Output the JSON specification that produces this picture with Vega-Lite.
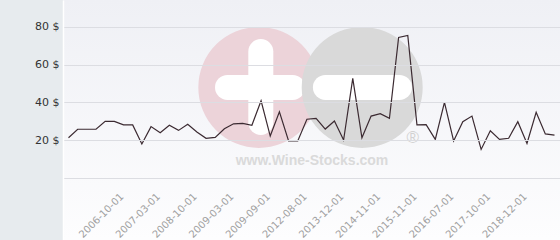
{
  "$schema": "https://vega.github.io/schema/vega-lite/v6.json",
  "width": 497,
  "height": 240,
  "autosize": {"type": "none"},
  "padding": {"left": 63, "top": 0, "right": 0, "bottom": 0},
  "background": "#e7ebee",
  "config": {
    "view": {
      "stroke": null,
      "fill": {"gradient": "linear", "x1": 0, "y1": 0, "x2": 0, "y2": 1, "stops": [{"offset": 0, "color": "#eff0f5"}, {"offset": 1, "color": "#fdfdfe"}]}
    },
    "font": "DejaVu Sans"
  },
  "data": {
    "values": [
      {"date": "2005-06-01", "price": 21.2},
      {"date": "2005-09-01", "price": 25.7},
      {"date": "2005-12-01", "price": 25.7},
      {"date": "2006-02-01", "price": 25.7},
      {"date": "2006-05-01", "price": 29.9},
      {"date": "2006-08-01", "price": 29.9},
      {"date": "2006-10-01", "price": 28.0},
      {"date": "2006-11-01", "price": 28.0},
      {"date": "2006-12-01", "price": 17.9},
      {"date": "2007-02-01", "price": 27.1},
      {"date": "2007-03-01", "price": 23.9},
      {"date": "2007-06-01", "price": 27.8},
      {"date": "2007-10-01", "price": 25.1},
      {"date": "2008-03-01", "price": 28.3},
      {"date": "2008-10-01", "price": 24.2},
      {"date": "2008-11-01", "price": 20.9},
      {"date": "2008-12-01", "price": 21.4},
      {"date": "2009-01-01", "price": 26.0},
      {"date": "2009-03-01", "price": 28.6},
      {"date": "2009-05-01", "price": 28.8},
      {"date": "2009-06-01", "price": 27.8},
      {"date": "2009-07-01", "price": 40.8},
      {"date": "2009-09-01", "price": 22.1},
      {"date": "2010-06-01", "price": 35.0},
      {"date": "2011-03-01", "price": 19.5},
      {"date": "2011-12-01", "price": 19.5},
      {"date": "2012-08-01", "price": 31.0},
      {"date": "2012-12-01", "price": 31.5},
      {"date": "2013-04-01", "price": 25.8},
      {"date": "2013-08-01", "price": 30.1},
      {"date": "2013-12-01", "price": 20.0},
      {"date": "2014-03-01", "price": 52.7},
      {"date": "2014-06-01", "price": 21.2},
      {"date": "2014-09-01", "price": 32.7},
      {"date": "2014-11-01", "price": 34.0},
      {"date": "2015-02-01", "price": 31.5},
      {"date": "2015-05-01", "price": 74.4},
      {"date": "2015-08-01", "price": 75.5},
      {"date": "2015-11-01", "price": 28.0},
      {"date": "2016-01-01", "price": 28.1},
      {"date": "2016-03-01", "price": 20.3},
      {"date": "2016-05-01", "price": 40.0},
      {"date": "2016-07-01", "price": 19.5},
      {"date": "2016-11-01", "price": 29.7},
      {"date": "2017-03-01", "price": 32.7},
      {"date": "2017-07-01", "price": 15.0},
      {"date": "2017-10-01", "price": 24.9},
      {"date": "2018-01-01", "price": 20.3},
      {"date": "2018-05-01", "price": 20.9},
      {"date": "2018-08-01", "price": 29.7},
      {"date": "2018-12-01", "price": 18.2},
      {"date": "2019-03-01", "price": 34.7},
      {"date": "2019-06-01", "price": 23.2},
      {"date": "2019-09-01", "price": 22.6}
    ]
  },
  "resolve": {"scale": {"x": "independent"}},
  "layer": [
    {
      "data": {"values": [{}]},
      "mark": {"type": "point", "filled": true, "shape": "circle", "size": 14641, "color": "#ecd3d9", "opacity": 1},
      "encoding": {
        "x": {"datum": 0.394, "type": "quantitative", "scale": {"domain": [0, 1]}, "axis": null},
        "y": {"datum": 47.9, "type": "quantitative", "scale": {"domain": [-33.05, 94.27], "nice": false, "zero": false}}
      }
    },
    {
      "data": {"values": [{}]},
      "mark": {"type": "rule", "color": "#ffffff", "strokeWidth": 25, "strokeCap": "round"},
      "encoding": {
        "x": {"datum": 0.331, "type": "quantitative", "scale": {"domain": [0, 1]}, "axis": null},
        "x2": {"datum": 0.462},
        "y": {"datum": 47.9, "type": "quantitative", "scale": {"domain": [-33.05, 94.27], "nice": false, "zero": false}}
      }
    },
    {
      "data": {"values": [{}]},
      "mark": {"type": "rule", "color": "#ffffff", "strokeWidth": 25, "strokeCap": "round"},
      "encoding": {
        "x": {"datum": 0.398, "type": "quantitative", "scale": {"domain": [0, 1]}, "axis": null},
        "y": {"datum": 66.9, "type": "quantitative", "scale": {"domain": [-33.05, 94.27], "nice": false, "zero": false}},
        "y2": {"datum": 29.3}
      }
    },
    {
      "data": {"values": [{}]},
      "mark": {"type": "point", "filled": true, "shape": "circle", "size": 14641, "color": "#d9d9d9", "opacity": 1},
      "encoding": {
        "x": {"datum": 0.602, "type": "quantitative", "scale": {"domain": [0, 1]}, "axis": null},
        "y": {"datum": 47.9, "type": "quantitative", "scale": {"domain": [-33.05, 94.27], "nice": false, "zero": false}}
      }
    },
    {
      "data": {"values": [{}]},
      "mark": {"type": "rule", "color": "#ffffff", "strokeWidth": 25, "strokeCap": "round"},
      "encoding": {
        "x": {"datum": 0.528, "type": "quantitative", "scale": {"domain": [0, 1]}, "axis": null},
        "x2": {"datum": 0.677},
        "y": {"datum": 47.9, "type": "quantitative", "scale": {"domain": [-33.05, 94.27], "nice": false, "zero": false}}
      }
    },
    {
      "data": {"values": [{"t": "www.Wine-Stocks.com"}]},
      "mark": {"type": "text", "font": "Liberation Sans", "fontWeight": "bold", "fontSize": 14, "color": "#dadada", "baseline": "middle", "align": "center"},
      "encoding": {
        "x": {"datum": 0.501, "type": "quantitative", "scale": {"domain": [0, 1]}, "axis": null},
        "y": {"datum": 8.9, "type": "quantitative", "scale": {"domain": [-33.05, 94.27], "nice": false, "zero": false}},
        "text": {"field": "t"}
      }
    },
    {
      "data": {"values": [{"t": "®"}]},
      "mark": {"type": "text", "font": "Liberation Sans", "fontSize": 17, "color": "#d2d2d2", "baseline": "middle", "align": "center"},
      "encoding": {
        "x": {"datum": 0.704, "type": "quantitative", "scale": {"domain": [0, 1]}, "axis": null},
        "y": {"datum": 21, "type": "quantitative", "scale": {"domain": [-33.05, 94.27], "nice": false, "zero": false}},
        "text": {"field": "t"}
      }
    },
    {
      "mark": {"type": "line", "color": "#3b2a31", "strokeWidth": 1.2},
      "encoding": {
        "x": {
          "field": "date", "type": "ordinal", "sort": null,
          "scale": {"type": "point", "padding": 0.6},
          "axis": {
            "values": ["2006-10-01", "2007-03-01", "2008-10-01", "2009-03-01", "2009-09-01", "2012-08-01", "2013-12-01", "2014-11-01", "2015-11-01", "2016-07-01", "2017-10-01", "2018-12-01"],
            "offset": -62.3,
            "title": null,
            "domain": false,
            "ticks": false,
            "grid": false,
            "labelAngle": -45,
            "labelAlign": "right",
            "labelBaseline": "middle",
            "labelPadding": 17,
            "labelOffset": -2,
            "labelFontSize": 10,
            "labelColor": "#a0a0a0",
            "labelOverlap": false
          }
        },
        "y": {
          "field": "price", "type": "quantitative",
          "scale": {"domain": [-33.05, 94.27], "nice": false, "zero": false},
          "axis": {
            "values": [0, 20, 40, 60, 80],
            "labelExpr": "datum.value == 0 ? '' : datum.value + ' $'",
            "title": null,
            "ticks": false,
            "domain": true,
            "domainColor": "#ffffff",
            "domainWidth": 1.5,
            "grid": true,
            "gridColor": "#dcdde2",
            "gridWidth": 1,
            "labelPadding": 4,
            "labelFontSize": 11,
            "labelColor": "#333333",
            "zindex": 1
          }
        }
      }
    }
  ]
}
